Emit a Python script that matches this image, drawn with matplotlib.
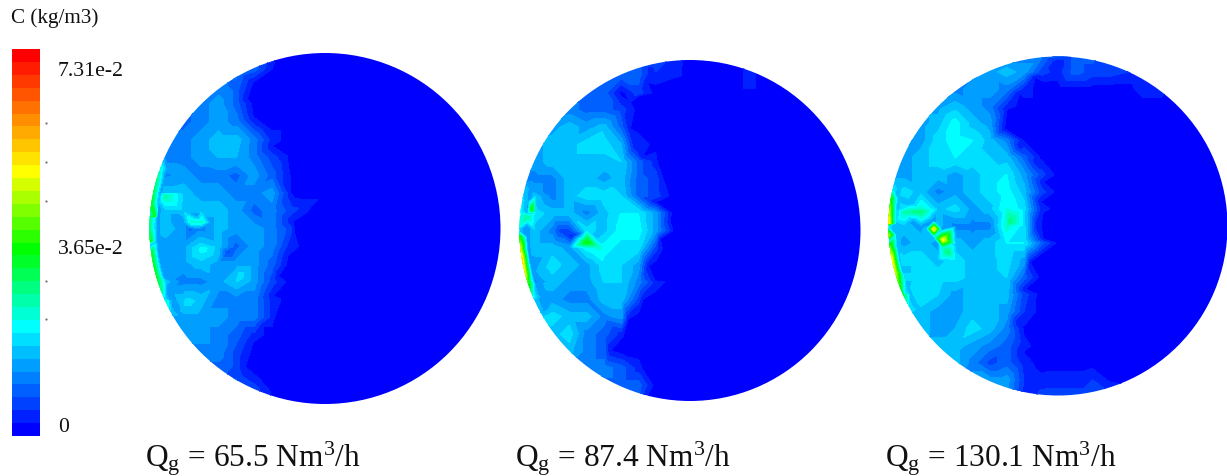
import numpy as np
import matplotlib
matplotlib.use("Agg")
import matplotlib.pyplot as plt
import matplotlib.tri as mtri
from matplotlib.colors import LinearSegmentedColormap, BoundaryNorm
from matplotlib.patches import Circle

plt.rcParams["font.family"] = "Liberation Serif"
plt.rcParams["mathtext.fontset"] = "custom"
plt.rcParams["mathtext.rm"] = "Liberation Serif"
plt.rcParams["mathtext.default"] = "rm"

N_BANDS = 30
COL_X = np.arange(-1.0, 1.01, 0.1)
ROW_Y = np.arange(-1.0, 1.01, 0.1)

# contour band, columns from x = -1 rightwards, anything further right is blue
grid_65 = [
    [4, 4, 4, 4, 4, 4, 4, 2, 0, 0, 0],
    [4, 4, 4, 4, 4, 4, 3, .5, 0, 0, 0],
    [4, 4, 4, 4, 4, 3, 0, 0, 0, 0, 0],
    [4, 4, 4, 4, 5, 3, 0, 0, 0, 0, 0],
    [3, 3, 3, 4, 5, 4, 1, 0, 0, 0, 0],
    [4, 4, 4, 5, 6, 6, 4, 1, 0, 0, 0],
    [4, 4, 4, 5, 5.5, 5.5, 4, 2, 0, 0, 0],
    [4, 4, 5, 4, 4, 3, 5, 3, .5, 0, 0],
    [5, 6, 6, 5, 5, 4, 4, 5, 1, 0, 0],
    [5, 6, 6, 6, 6, 5, 3, 4, 2, .5, 0],
    [5, 6, 5, 4, 6, 5, 5, 4, 2, 0, 0],
    [5, 5, 5, 7, 6, 3, 5, 4, 1, 0, 0],
    [5, 5, 5, 6, 5, 5, 5, 3, 0, 0, 0],
    [5, 6, 4, 4, 5, 6.5, 5, 2, 0, 0, 0],
    [5, 6, 6, 6, 4, 4, 4, 1, 0, 0, 0],
    [5, 5, 5, 5, 5, 4, 4, 1, 0, 0, 0],
    [5, 5, 5, 5, 4, 3, 1, 0, 0, 0, 0],
    [4, 4, 4, 4, 4, 2, 0, 0, 0, 0, 0],
    [3, 3, 3, 3, 3, 2, 0, 0, 0, 0, 0],
    [3, 3, 3, 3, 3, 3, 2, 0, 0, 0, 0],
    [3, 3, 3, 3, 3, 3, 2, 1, 0, 0, 0],
]
grid_87 = [
    [3, 3, 3, 3, 3, 3, 3, 3, 3, 1, 0],
    [3, 3, 3, 3, 3, 3, 3, 3, 1, 1, 0],
    [3, 3, 3, 3, 3, 3, 0, 2, 0, 0, 0],
    [4, 4, 4, 4, 3, 3, 2, 0, 0, 0, 0],
    [5, 5, 5, 6, 5, 6, 3, 0, 0, 0, 0],
    [5, 5, 6, 6, 7, 7, 5.5, 1.3, 0, 0, 0],
    [5, 5, 6, 6, 6, 6, 6.5, 3, 1, 0, 0],
    [4, 4, 4, 6, 6, 5, 6, 3, 2, 0, 0],
    [5, 6, 4, 6, 7, 7, 6.5, 3, 2, 0, 0],
    [6, 7, 6, 6, 4, 6, 7.5, 7.5, 5, 0, 0],
    [6, 6, 4, 2, 7, 6, 8, 8, 5, .5, 0],
    [6, 6, 6, 5, 8, 8, 7, 7, 2, 0, 0],
    [6, 5, 7, 6, 5, 7, 6.5, 5, 0, 0, 0],
    [5, 4, 6, 5, 5, 6.5, 6.5, 4, 1, 0, 0],
    [6, 6, 5, 4, 4, 6, 6, 2, 0, 0, 0],
    [6, 6, 7, 6, 6, 4, 5, 0, 0, 0, 0],
    [6, 6, 6, 7, 4, 3, 1, 0, 0, 0, 0],
    [5, 5, 5, 6, 4, 3, 0, 0, 0, 0, 0],
    [4, 4, 4, 4, 4, 4, 3, 1, 0, 0, 0],
    [3, 3, 3, 3, 3, 3, 3, 3, 0, 0, 0],
    [3, 3, 3, 3, 3, 3, 3, 3, 0, 0, 0],
]
grid_130 = [
    [4, 4, 4, 4, 4, 4, 4, 4, 4, 4, 3, 3, 3, 2, 2],
    [4, 4, 4, 4, 4, 4, 5, 6, 5, 2, 1, 3, 2, 2, 1.5, 1.5, 1],
    [4, 4, 4, 4, 4, 5, 5, 4, 1, 0, 0, 0, 0, 0, 0, 1, 1],
    [5, 5, 5, 5, 6, 5, 4, 1, 0, 0, 0],
    [5, 5, 5, 6, 8, 6, 5, 0, 0, 0, 0],
    [4, 4, 5, 7, 8, 7.5, 6, 4, .3, 0, 0],
    [5, 5, 6, 7, 7.5, 7, 6.5, 6, 3, .3, 0],
    [5, 5, 6, 6, 5, 6, 7, 7.5, 5, 2, 0],
    [6, 7, 6, 4, 5, 6, 7, 8, 6, 2, 0],
    [6, 7, 9, 6, 7, 5, 6, 8.5, 7, 1, 0],
    [7, 6, 5, 6, 4, 4, 4, 9, 7, .5, 0],
    [7, 5, 6, 5, 6, 5, 6, 7.5, 7.5, 3, 0],
    [7, 7, 7, 6, 7, 6, 6, 7, 5, 0, 0],
    [7, 7, 7, 7, 7, 6, 6, 6.5, 3, 0, 0],
    [8, 8, 7.5, 6.5, 5, 6, 6, 6, 2, 0, 0],
    [7, 7, 6, 5, 5, 6, 6, 5, 1.5, 0, 0],
    [6, 6, 6, 5, 5.5, 7, 6, 4, .3, 0, 0],
    [6, 6, 6, 6, 6, 5, 4, 3, .8, 0, 0],
    [6, 6, 6, 6, 6, 4, 2, 3, 1, 0, 0],
    [5, 5, 5, 5, 5, 5, 5, 5, 1.5, .8, 1, 1, 1.5, .3],
    [5, 5, 5, 5, 5, 5, 5, 5, 1, 2, 2, 2, 2, 2, 1],
]

# edge of the blue region, in picture pixels
front_x_65 = [275, 272, 253, 247, 253, 265, 272, 287, 290, 290, 295, 317, 307, 293, 295, 287, 278, 273, 275, 263, 253, 245, 257, 270, 272]
front_y_65 = [60, 70, 83, 100, 118, 127, 147, 157, 177, 193, 200, 201, 213, 222, 237, 257, 277, 297, 317, 327, 343, 368, 378, 393, 404]
front_x_87 = [682, 673, 653, 647, 638, 630, 630, 635, 642, 657, 663, 655, 670, 660, 662, 648, 655, 643, 628, 623, 610, 627, 642, 648]
front_y_87 = [62, 79, 73, 83, 97, 103, 130, 147, 158, 163, 180, 203, 223, 240, 250, 267, 282, 300, 320, 337, 352, 358, 370, 395]
front_x_130 = [1058, 1043, 1035, 1020, 1007, 1004, 1020, 1037, 1043, 1040, 1043, 1037, 1043, 1043, 1030, 1025, 1018, 1023, 1027]
front_y_130 = [63, 82, 78, 93, 110, 130, 147, 163, 183, 203, 213, 227, 240, 253, 263, 290, 323, 353, 393]

# thin streak along the left rim: y in picture pixels, band on the wall, band just inside
rim_y_65 = [170, 182, 194, 206, 218, 230, 242, 254, 266, 278, 290, 302, 314]
rim_v_65 = [9, 11, 12, 13, 11, 11, 13, 13, 13, 13, 11, 9, 6]
rim_in_65 = 5
rim_y_87 = [190, 202, 214, 226, 238, 250, 262, 274, 286, 298, 310]
rim_v_87 = [6, 7, 8, 9, 14, 19, 21, 19, 14, 8, 6]
rim_in_87 = 5
rim_y_130 = [190, 200, 212, 224, 236, 248, 260, 272, 284, 296, 308]
rim_v_130 = [7, 14, 18, 21, 18, 16, 20, 19, 15, 12, 7]
rim_in_130 = 6

# small spots and streaks: x, y in picture pixels, band
spot_x_65 = [155, 165, 175, 185, 192, 202, 197, 197, 184, 210, 203, 210, 190, 228, 240, 187, 307]
spot_y_65 = [217, 197, 217, 197, 223, 223, 216, 230, 223, 223, 250, 253, 230, 253, 277, 303, 207]
spot_v_65 = [13, 10, 5, 6, 9, 9, 4, 4, 5, 5, 8, 7, 3, 2, 7, 7, 1]
spot_x_87 = [532, 528, 587, 598, 572, 560, 627, 600, 580, 595, 749]
spot_y_87 = [210, 218, 243, 247, 238, 232, 220, 138, 235, 238, 80]
spot_v_87 = [14, 10, 14, 9, 1, 2, 8.5, 7, 3, 6, 1.5]
spot_x_130 = [934, 943, 948, 905, 921, 913, 913, 1010, 927, 942, 934, 934, 943]
spot_y_130 = [230, 241, 253, 213, 213, 205, 222, 222, 230, 230, 222, 238, 248]
spot_v_130 = [21, 20, 11, 10, 11, 6, 5, 11, 6, 4, 4, 6, 9]

disks = [
    (325, 229.5, 175.5, grid_65, front_x_65, front_y_65, rim_y_65, rim_v_65, rim_in_65, spot_x_65, spot_y_65, spot_v_65),
    (690, 231.5, 170.5, grid_87, front_x_87, front_y_87, rim_y_87, rim_v_87, rim_in_87, spot_x_87, spot_y_87, spot_v_87),
    (1058, 227, 169.5, grid_130, front_x_130, front_y_130, rim_y_130, rim_v_130, rim_in_130, spot_x_130, spot_y_130, spot_v_130),
]

labels = ["65.5", "87.4", "130.1"]
label_x = [145, 515, 885]
legend_ticks = ["7.31e-2", "3.65e-2", "0"]
legend_tick_y = [71, 250, 428]
legend_dots = [124, 163, 202, 282, 320]

cmap = LinearSegmentedColormap.from_list(
    "fluent",
    [(0, "#0000ff"), (8 / 29, "#00ffff"), (14 / 29, "#00ff00"), (20 / 29, "#ffff00"), (1, "#ff0000")],
    N=N_BANDS,
)
band_edges = np.arange(N_BANDS + 1) - 0.5
norm = BoundaryNorm(band_edges, N_BANDS)

fig = plt.figure(figsize=(12.27, 4.77), dpi=100)
ax = fig.add_axes([0, 0, 1, 1])
ax.set_xlim(0, 1227)
ax.set_ylim(477, 0)
ax.axis("off")

for cx, cy, r, grid, fx, fy, ry, rv, rin, sx, sy, sv in disks:
    g = np.zeros((len(ROW_Y), len(COL_X)))
    for i, row in enumerate(grid):
        g[i, :len(row)] = row
    gx, gy = np.meshgrid(cx + COL_X * r * 1.01, cy + ROW_Y * r * 1.01)
    ry = np.array(ry, dtype=float)
    wall_x = cx - np.sqrt(r**2 - (ry - cy)**2)
    xs = np.concatenate([gx.ravel(), fx, wall_x, wall_x + 7, sx])
    ys = np.concatenate([gy.ravel(), fy, ry, ry, sy])
    vals = np.concatenate([g.ravel(), np.full(len(fx), 0.5), rv, np.full(len(ry), rin), sv])
    tri = mtri.Triangulation(xs, ys)
    cs = ax.tricontourf(tri, vals, levels=band_edges, cmap=cmap, norm=norm)
    cs.set_edgecolor("face")
    cs.set_linewidth(0.3)
    cs.set_clip_path(Circle((cx, cy), r, transform=ax.transData))

# legend bar
bar_y = np.linspace(437, 50, N_BANDS + 1)
ax.pcolormesh([12, 40], bar_y, np.arange(N_BANDS).reshape(-1, 1), cmap=cmap, norm=norm)
for y, txt in zip(legend_tick_y, legend_ticks):
    ax.text(58, y, txt, fontsize=15.7, va="center", ha="left", color="#111111")
ax.plot([46] * len(legend_dots), legend_dots, ls="none", marker="s", ms=0.6, color="#777777")
ax.text(11, 18, "C (kg/m3)", fontsize=15.2, va="center", ha="left", color="#111111")

for x, q in zip(label_x, labels):
    ax.text(x, 467, "Q$_{g}$ = " + q + " Nm$^{3}$/h", fontsize=22.6, va="baseline", ha="left", color="#111111")

fig.savefig("out.png", dpi=100)
